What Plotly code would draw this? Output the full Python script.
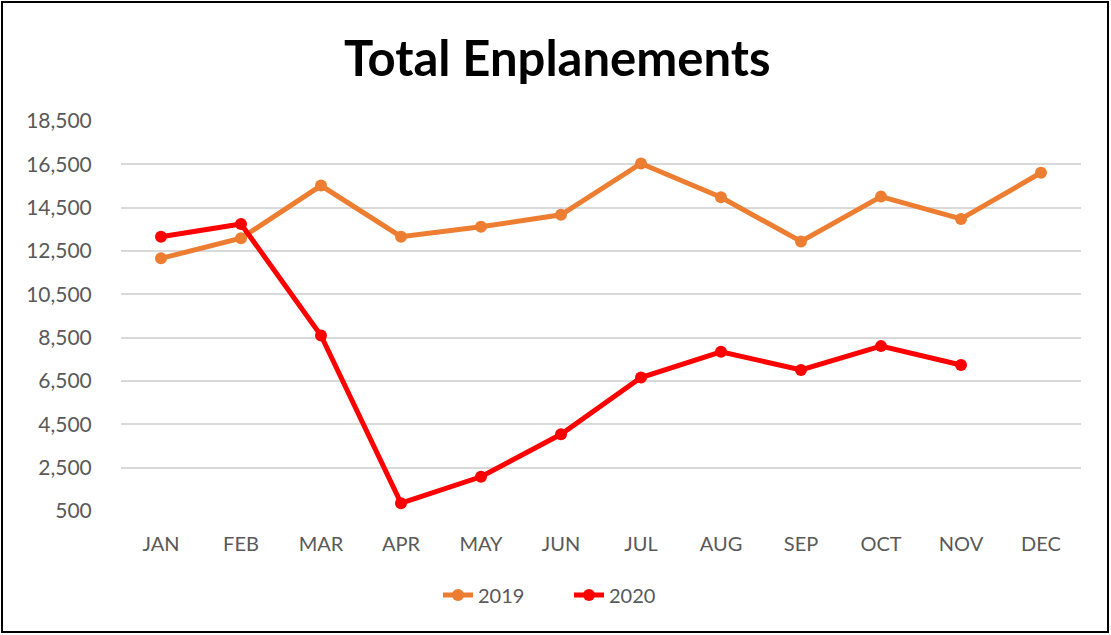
import plotly.graph_objects as go

months = ["JAN", "FEB", "MAR", "APR", "MAY", "JUN", "JUL", "AUG", "SEP", "OCT", "NOV", "DEC"]
y2019 = [12160, 13090, 15520, 13160, 13620, 14170, 16540, 14980, 12940, 15010, 13980, 16110]
y2020 = [13160, 13750, 8600, 860, 2080, 4040, 6660, 7850, 7010, 8110, 7240, None]
yticks = [500, 2500, 4500, 6500, 8500, 10500, 12500, 14500, 16500, 18500]

fig = go.Figure()
fig.add_trace(go.Scatter(x=months, y=y2019, name="2019", mode="lines+markers",
                         line=dict(color="#ED7D31", width=5),
                         marker=dict(size=12, color="#ED7D31")))
fig.add_trace(go.Scatter(x=months, y=y2020, name="2020", mode="lines+markers",
                         line=dict(color="#FF0000", width=5),
                         marker=dict(size=12, color="#FF0000")))

W, H = 1111, 635
L, R, T, B = 121, 30, 121, 124
pw, ph = W - L - R, H - T - B

def px(x):
    return (x - L) / pw

def py(y):
    return (H - B - y) / ph

fig.update_layout(
    width=W, height=H,
    margin=dict(l=L, r=R, t=T, b=B),
    paper_bgcolor="white", plot_bgcolor="white",
    font=dict(family="Lato, Open Sans, sans-serif", color="#595959", size=20),
    showlegend=True,
    legend=dict(orientation="h", x=px(569), xanchor="center", y=py(595), yanchor="middle",
                font=dict(size=20, color="#595959"), entrywidth=86, entrywidthmode="pixels"),
    annotations=[dict(text="<b>Total Enplanements</b>", x=px(557), xref="paper", y=py(57), yref="paper",
                      xanchor="center", yanchor="middle", showarrow=False,
                      font=dict(size=49, color="black", family="Lato, Open Sans, sans-serif"))],
    shapes=[dict(type="rect", xref="paper", yref="paper", x0=px(2), x1=px(1108), y0=py(632), y1=py(2),
                 line=dict(color="black", width=2), fillcolor="rgba(0,0,0,0)", layer="above")],
    xaxis=dict(type="category", categoryorder="array", categoryarray=months,
               showgrid=False, showline=False, zeroline=False,
               ticks="outside", ticklen=15, tickcolor="rgba(0,0,0,0)",
               tickfont=dict(size=20, color="#595959"), range=[-0.5, 11.5]),
    yaxis=dict(range=[500, 18500], tickvals=yticks, ticktext=[f"{v:,}" for v in yticks],
               showgrid=True, gridcolor="#D9D9D9", gridwidth=1.5, zeroline=False, showline=False,
               ticks="outside", ticklen=24, tickcolor="rgba(0,0,0,0)",
               tickfont=dict(size=21, color="#595959")),
)

fig.write_html("out.html", config={"displayModeBar": False},
               post_script="document.body.style.margin='0';document.body.style.overflow='hidden';")
